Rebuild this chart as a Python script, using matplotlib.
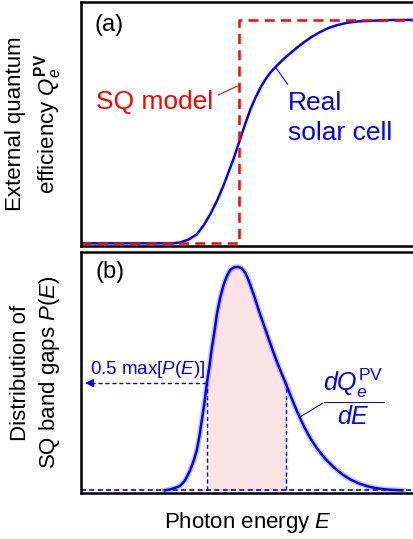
import numpy as np
import matplotlib.pyplot as plt

plt.rcParams["font.family"] = ["Liberation Sans", "DejaVu Sans"]
plt.rcParams["mathtext.fontset"] = "custom"
plt.rcParams["mathtext.rm"] = "Liberation Sans"
plt.rcParams["mathtext.it"] = "Liberation Sans:italic"
plt.rcParams["mathtext.bf"] = "Liberation Sans:bold"

BLUE = "#0000ff"
RED = "#ff0000"
PINK = "#fde4e4"

# photon energy (arbitrary units, 0..100 across the axes)
energy_eqe = [0, 20, 27.5, 29.6, 32.0, 34.6, 36.6, 38.6, 40.6, 42.6, 44.1, 45.6,
              47.6, 49.1, 50.6, 52.1, 53.6, 55.1, 56.6, 58.6, 60.6, 62.6, 64.6,
              66.6, 69.0, 71.6, 74.0, 76.6, 79.5, 82.6, 86.5, 92.0, 100]
eqe_real = [0, 0, 0, 0.004, 0.016, 0.04, 0.08, 0.13, 0.19, 0.26, 0.32, 0.38,
            0.47, 0.537, 0.60, 0.652, 0.697, 0.734, 0.765, 0.797, 0.826, 0.852, 0.877,
            0.90, 0.925, 0.947, 0.964, 0.977, 0.987, 0.993, 0.996, 0.999, 1.0]

# SQ step model
sq_gap = 47.1
energy_sq = [0, sq_gap, sq_gap, 100]
eqe_sq = [0, 0, 1, 1]

# distribution of SQ band gaps P(E)
energy_p = [25.0, 26.6, 28.0, 29.6, 31.1, 32.6, 33.6, 34.6, 35.4, 36.1, 36.9, 37.6,
            38.4, 39.1, 39.9, 40.6, 41.6, 42.6, 43.6, 44.6, 45.8, 46.9, 48.0,
            49.1, 50.3, 51.6, 53.1, 54.6, 56.1, 57.6, 59.3, 61.1, 62.8, 64.6,
            66.6, 68.6, 70.6, 73.0, 75.5, 78.0, 80.5, 83.0, 85.6, 88.0, 90.4, 93.0, 96.0]
p_vals = [0, 0.004, 0.01, 0.02, 0.045, 0.09, 0.13, 0.18, 0.245, 0.315, 0.395, 0.48,
          0.56, 0.64, 0.715, 0.79, 0.865, 0.92, 0.96, 0.987, 0.998, 1.0, 0.993,
          0.973, 0.93, 0.875, 0.805, 0.74, 0.675, 0.612, 0.545, 0.48, 0.415, 0.35,
          0.285, 0.23, 0.185, 0.14, 0.103, 0.072, 0.048, 0.031, 0.018, 0.01, 0.005, 0.002, 0]
half_left, half_right = 37.6, 61.1
half_level = 0.48

fig = plt.figure(figsize=(4.13, 5.39), dpi=100)
ax1 = fig.add_axes([0.196, 0.5436, 0.811, 0.4527])
ax2 = fig.add_axes([0.196, 0.0853, 0.811, 0.4471])

for ax in (ax1, ax2):
    ax.set_xticks([])
    ax.set_yticks([])
    for s in ax.spines.values():
        s.set_linewidth(1.8)
    ax.set_xlim(0, 100)

# (a) EQE
ax1.set_ylim(-0.012, 1.08)
ax1.plot(energy_eqe, eqe_real, color=BLUE, lw=1.8)
ax1.plot(energy_sq, eqe_sq, color=RED, lw=1.8, dashes=(4, 2.5))
ax1.text(3.9, 0.978, "(a)", fontsize=17, va="center", ha="left")
ax1.text(21.9, 0.633, "SQ model", color=RED, fontsize=19, va="center", ha="center")
ax1.plot([41.0, 46.7], [0.664, 0.704], color=RED, lw=0.8)
ax1.text(61.7, 0.56, "Real\nsolar cell", color=BLUE, fontsize=19, va="center",
         ha="left", linespacing=1.3)
ax1.plot([58.1, 61.7], [0.788, 0.712], color=BLUE, lw=0.8)
ax1.set_ylabel("External quantum\nefficiency $Q_e^{\\mathbf{PV}}$", fontsize=16,
               labelpad=12, linespacing=1.3)

# (b) distribution
ax2.set_ylim(-0.012, 1.066)
e = np.array(energy_p)
p = np.array(p_vals)
mask = (e >= half_left) & (e <= half_right)
ax2.fill_between(e, 0, p, where=mask, color=PINK, lw=0)
ax2.plot([0, 100], [0, 0], color=BLUE, lw=1.2, dashes=(3, 2))
ax2.plot(energy_p, p_vals, color=BLUE, lw=4, alpha=0.2)
ax2.plot(energy_p, p_vals, color=BLUE, lw=1.8)
ax2.plot([half_left, half_left], [0, half_level], color=BLUE, lw=1, dashes=(3, 2))
ax2.plot([half_right, half_right], [0, half_level], color=BLUE, lw=1, dashes=(3, 2))
ax2.plot([3, half_left], [half_level, half_level], color=BLUE, lw=1, dashes=(3, 2))
ax2.annotate("", xy=(0.4, half_level), xytext=(4.5, half_level),
             arrowprops=dict(arrowstyle="-|>", color=BLUE, lw=1, mutation_scale=12))
ax2.text(2.7, half_level + 0.015, "0.5 max[$P(E)$]", color=BLUE, fontsize=13.5,
         va="bottom", ha="left")
ax2.text(4.2, 0.978, "(b)", fontsize=17, va="center", ha="left")
ax2.text(81.5, 0.42, "$\\dfrac{dQ_e^{\\rm PV}}{dE}$", color=BLUE, fontsize=18,
         va="center", ha="center")
ax2.plot([65.6, 72.2], [0.33, 0.39], color=BLUE, lw=0.8)
ax2.set_ylabel("Distribution of\nSQ band gaps $P(E)$", fontsize=16, labelpad=14,
               linespacing=1.3)
ax2.set_xlabel("Photon energy $E$", fontsize=16, labelpad=12)

fig.savefig("out.png", dpi=100)
